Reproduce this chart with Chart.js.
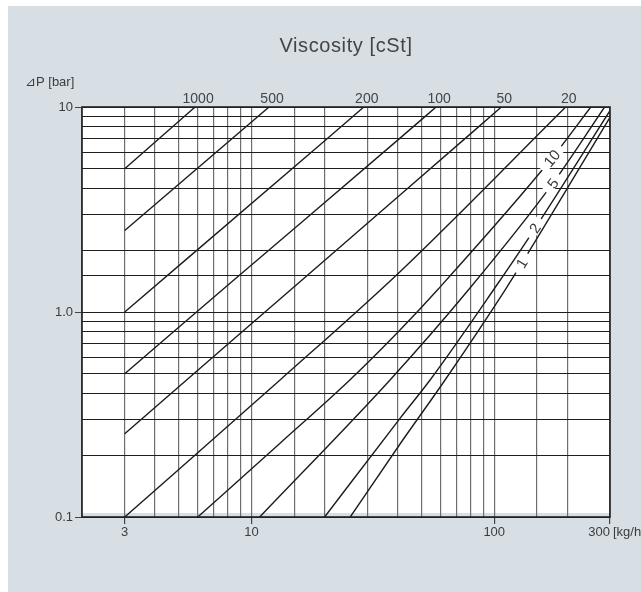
<!DOCTYPE html>
<html>
<head>
<meta charset="utf-8">
<title>Viscosity - pressure drop</title>
<script src="https://cdn.jsdelivr.net/npm/chart.js@4.4.1/dist/chart.umd.min.js"></script>
<style>
  html, body { margin: 0; padding: 0; background: #fff; }
  #wrap { position: relative; width: 641px; height: 592px; }
</style>
</head>
<body>
<div id="wrap"><canvas id="chart" width="641" height="592"></canvas></div>
<script>
// ============ Data ============
// flow [kg/h] and pressure drop [bar] along each viscosity line
const viscosityLabels = ['1000', '500', '200', '100', '50', '20', '10', '5', '2', '1'];

const flow1000 = [3, 5.85];
const dp1000   = [5.0, 10];
const flow500  = [3, 11.8];
const dp500    = [2.5, 10];
const flow200  = [3, 19.1, 29];
const dp200    = [1.0, 6.53, 10];
const flow100  = [3, 8.15, 40.9, 57.6];
const dp100    = [0.5, 1.38, 7.05, 10];
const flow50   = [3, 8.15, 40.9, 107];
const dp50     = [0.255, 0.712, 3.72, 10];
const flow20   = [3, 13.1, 40.9, 197];
const dp20     = [0.1, 0.466, 1.573, 10];
const flow10   = [6, 13.1, 25.4, 40.9, 58.3, 172.7, 250];
const dp10     = [0.1, 0.229, 0.466, 0.817, 1.28, 5.62, 10];
const flow5    = [10.8, 37.2, 78.2, 174.3, 285];
const dp5      = [0.1, 0.466, 1.28, 4.24, 10];
const flow2    = [20, 40.9, 54.4, 99.2, 147.3, 300];
const dp2      = [0.1, 0.303, 0.466, 1.28, 2.56, 9.6];
const flow1    = [25.5, 40.9, 62.7, 110.8, 130, 300];
const dp1      = [0.1, 0.227, 0.466, 1.28, 1.73, 8.9];

// labels written on the curves themselves (10, 5, 2, 1)
const curveLabelFlow = [172.7, 174.3, 147.3, 130];
const curveLabelDp   = [5.62, 4.24, 2.56, 1.73];

// axis labels
const xTickLabels = [3, 10, 100];
const yTickValues = [10, 1, 0.1];
const yTickLabels = ['10', '1.0', '0.1'];

const allFlows = [flow1000, flow500, flow200, flow100, flow50, flow20, flow10, flow5, flow2, flow1];
const allDps   = [dp1000, dp500, dp200, dp100, dp50, dp20, dp10, dp5, dp2, dp1];

const FONT = '"Liberation Sans", Arial, sans-serif';
const BG = '#d7dfe5';
const TEXT = '#3c3c3c';

// ============ Decorations ============
const chartDecor = {
  id: 'chartDecor',
  beforeDraw(chart) {
    const { ctx, chartArea: a } = chart;
    ctx.save();
    ctx.fillStyle = '#fff';
    ctx.fillRect(0, 0, chart.width, chart.height);
    ctx.fillStyle = BG;
    ctx.fillRect(8, 6, chart.width - 8, chart.height - 6);
    ctx.fillStyle = '#fff';
    ctx.fillRect(a.left, a.top, a.width, a.height - 4);
    ctx.restore();
  },

  afterDatasetsDraw(chart) {
    const { ctx } = chart;
    const xs = chart.scales.x, ys = chart.scales.y;
    ctx.save();
    ctx.font = '15px ' + FONT;
    ctx.textAlign = 'center';
    ctx.textBaseline = 'middle';
    curveLabelFlow.forEach((q, i) => {
      const li = 6 + i;
      const fl = allFlows[li], dp = allDps[li];
      const k = fl.indexOf(q);
      const p0 = [xs.getPixelForValue(fl[k - 1]), ys.getPixelForValue(dp[k - 1])];
      const p1 = [xs.getPixelForValue(fl[k + 1]), ys.getPixelForValue(dp[k + 1])];
      const ang = Math.atan2(p1[1] - p0[1], p1[0] - p0[0]);
      const px = xs.getPixelForValue(q), py = ys.getPixelForValue(curveLabelDp[i]);
      const txt = viscosityLabels[li];
      const w = ctx.measureText(txt).width + 14;
      ctx.save();
      ctx.translate(px, py);
      ctx.rotate(ang);
      ctx.fillStyle = '#fff';
      ctx.fillRect(-w / 2, -5, w, 10);
      ctx.fillStyle = TEXT;
      ctx.fillText(txt, 0, 1);
      ctx.restore();
    });
    ctx.restore();
  },

  afterDraw(chart) {
    const { ctx, chartArea: a } = chart;
    const xs = chart.scales.x, ys = chart.scales.y;
    ctx.save();

    // plot frame
    ctx.strokeStyle = '#222';
    ctx.lineWidth = 1.6;
    ctx.strokeRect(a.left, a.top, a.width, a.height);

    // title
    ctx.fillStyle = '#444';
    ctx.font = '20px ' + FONT;
    ctx.letterSpacing = '0.6px';
    ctx.textAlign = 'center';
    ctx.textBaseline = 'middle';
    ctx.fillText('Viscosity [cSt]', (a.left + a.right) / 2, 46);
    ctx.letterSpacing = '0px';

    // viscosity names above the top ends
    ctx.font = '14px ' + FONT;
    ctx.fillStyle = '#444';
    for (let i = 0; i < 6; i++) {
      const fl = allFlows[i];
      const x = xs.getPixelForValue(fl[fl.length - 1]) + 3;
      ctx.fillText(viscosityLabels[i], x, a.top - 8);
    }

    // y axis
    ctx.font = '13px ' + FONT;
    ctx.fillStyle = TEXT;
    ctx.textAlign = 'right';
    yTickValues.forEach((v, i) => {
      ctx.fillText(yTickLabels[i], a.left - 9, ys.getPixelForValue(v));
    });
    ctx.textAlign = 'left';
    ctx.fillText('\u22BFP [bar]', 25, 82);

    // x axis
    ctx.textAlign = 'center';
    ctx.textBaseline = 'top';
    xTickLabels.forEach(v => {
      ctx.fillText(String(v), xs.getPixelForValue(v), a.bottom + 9);
    });
    ctx.textAlign = 'right';
    ctx.fillText('300', a.right, a.bottom + 9);
    ctx.textAlign = 'left';
    ctx.fillText('[kg/h]', a.right + 3, a.bottom + 9);

    ctx.restore();
  }
};

// ============ Chart ============
const markedX = [3, 10, 100, 300];
const markedY = [0.1, 1, 10];
const near = (v, list) => list.some(t => Math.abs(t - v) / t < 1e-6);

const datasets = allFlows.map((fl, i) => ({
  label: viscosityLabels[i] + ' cSt',
  data: fl.map((q, j) => ({ x: q, y: allDps[i][j] })),
  showLine: true,
  borderColor: '#1c1c1c',
  borderWidth: 1.4,
  pointRadius: 0,
  cubicInterpolationMode: 'monotone',
}));

new Chart(document.getElementById('chart').getContext('2d'), {
  type: 'scatter',
  data: { datasets },
  plugins: [chartDecor],
  options: {
    responsive: false,
    animation: false,
    events: [],
    layout: { padding: { left: 75, right: 31, top: 107, bottom: 68 } },
    plugins: { legend: { display: false }, tooltip: { enabled: false } },
    scales: {
      x: {
        type: 'logarithmic',
        min: 2,
        max: 300,
        border: { display: false },
        ticks: { display: false },
        grid: {
          color: '#6e6e6e',
          lineWidth: 1.2,
          drawTicks: true,
          tickLength: 7,
          tickColor: c => (c.tick && near(c.tick.value, markedX)) ? '#444' : 'rgba(0,0,0,0)',
        },
      },
      y: {
        type: 'logarithmic',
        min: 0.1,
        max: 10,
        border: { display: false },
        ticks: { display: false },
        grid: {
          color: '#1e1e1e',
          lineWidth: 1,
          drawTicks: true,
          tickLength: 7,
          tickColor: c => (c.tick && near(c.tick.value, markedY)) ? '#444' : 'rgba(0,0,0,0)',
        },
      },
    },
  },
});
</script>
</body>
</html>
